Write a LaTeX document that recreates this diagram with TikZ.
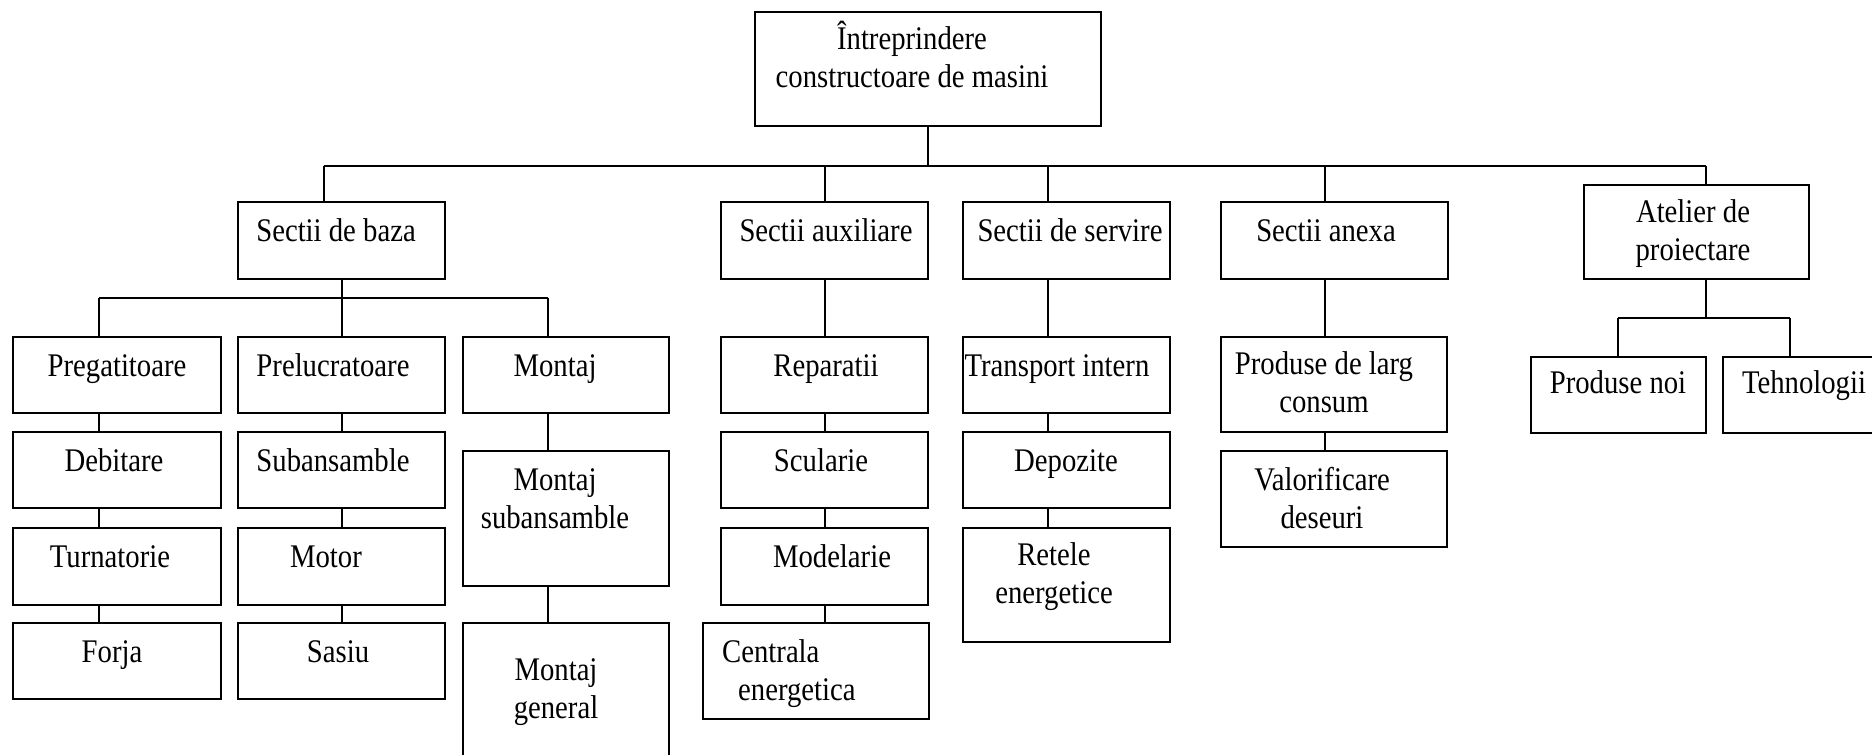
\documentclass[tikz,border=0pt]{standalone}
\usepackage{fontspec}
\usetikzlibrary{fit}
\newfontfamily\chartfont[FakeStretch=0.87]{Liberation Serif}
% box name, corners (x1,y1) (x2,y2), baseline point of the last text line, text
\newcommand\chartbox[8]{%
  \node[box, fit={(#2,#3) (#4,#5)}] (#1) {};
  \node[txt] (#1-t) at (#6,#7) {#8};}
\begin{document}
\begin{tikzpicture}[x=1pt, y=-1pt,
  box/.style={draw, line width=2.8pt, inner sep=0pt},
  conn/.style={line width=2pt},
  txt/.style={font=\chartfont\fontsize{33}{38}\selectfont, align=center, anchor=base, inner sep=0pt}]
\useasboundingbox (0,0) rectangle (1872,755);
\clip (0,0) rectangle (1872,755);

% top level
\chartbox{top}{755}{12}{1101}{126}{912}{87}{Întreprindere\\constructoare de masini}

% departments
\chartbox{baza}{238}{202}{445}{279}{336}{241}{Sectii de baza}
\chartbox{aux}{721}{202}{928}{279}{826}{241}{Sectii auxiliare}
\chartbox{serv}{963}{202}{1170}{279}{1070}{241}{Sectii de servire}
\chartbox{anexa}{1221}{202}{1448}{279}{1326}{241}{Sectii anexa}
\chartbox{atel}{1584}{185}{1809}{279}{1693}{260}{Atelier de\\proiectare}

% Sectii de baza
\chartbox{preg}{13}{337}{221}{413}{117}{376}{Pregatitoare}
\chartbox{prel}{238}{337}{445}{413}{333}{376}{Prelucratoare}
\chartbox{mont}{463}{337}{669}{413}{555}{376}{Montaj}
\chartbox{deb}{13}{432}{221}{508}{114}{471}{Debitare}
\chartbox{turn}{13}{528}{221}{605}{110}{567}{Turnatorie}
\chartbox{forja}{13}{623}{221}{699}{112}{662}{Forja}
\chartbox{subans}{238}{432}{445}{508}{333}{471}{Subansamble}
\chartbox{motor}{238}{528}{445}{605}{326}{567}{Motor}
\chartbox{sasiu}{238}{623}{445}{699}{338}{662}{Sasiu}
\chartbox{msub}{463}{451}{669}{586}{555}{528}{Montaj\\subansamble}
\chartbox{mgen}{463}{623}{669}{800}{556}{718}{Montaj\\general}

% Sectii auxiliare
\chartbox{rep}{721}{337}{928}{413}{826}{376}{Reparatii}
\chartbox{scul}{721}{432}{928}{508}{821}{471}{Scularie}
\chartbox{model}{721}{528}{928}{605}{832}{567}{Modelarie}
\node[box, fit={(703,623) (929,719)}] (centr) {};
\node[txt, align=left, anchor=base west] (centr-t) at (722,700) {Centrala\\\hspace*{16pt}energetica};

% Sectii de servire
\chartbox{transp}{963}{337}{1170}{413}{1057}{376}{Transport intern}
\chartbox{depoz}{963}{432}{1170}{508}{1066}{471}{Depozite}
\chartbox{retele}{963}{528}{1170}{642}{1054}{603}{Retele\\energetice}

% Sectii anexa
\chartbox{larg}{1221}{337}{1447}{432}{1324}{412}{Produse de larg\\consum}
\chartbox{valor}{1221}{451}{1447}{547}{1322}{528}{Valorificare\\deseuri}

% Atelier de proiectare
\chartbox{noi}{1531}{357}{1706}{433}{1618}{393}{Produse noi}
\chartbox{tehn}{1723}{357}{1910}{433}{1804}{393}{Tehnologii}

% main bus
\coordinate (busL) at (324,166);
\coordinate (busR) at (1706,166);
\coordinate (tapS) at (1048,166);
\coordinate (tapA) at (1325,166);
\draw[conn] (top.south) -- (top.south |- busL);
\draw[conn] (busL) -- (busR);
\draw[conn] (busL) -- (busL |- baza.north);
\draw[conn] (aux.north) -- (aux.north |- busL);
\draw[conn] (tapS) -- (tapS |- serv.north);
\draw[conn] (tapA) -- (tapA |- anexa.north);
\draw[conn] (busR) -- (busR |- atel.north);

% Sectii de baza branches
\coordinate (sbL) at (99,298);
\coordinate (sbR) at (548,298);
\draw[conn] (sbL) -- (sbR);
\draw[conn] (baza.south) -- (baza.south |- prel.north);
\draw[conn] (sbL) -- (sbL |- preg.north);
\draw[conn] (sbR) -- (sbR |- mont.north);
\draw[conn] (preg.south -| sbL) -- (deb.north -| sbL);
\draw[conn] (deb.south -| sbL) -- (turn.north -| sbL);
\draw[conn] (turn.south -| sbL) -- (forja.north -| sbL);
\draw[conn] (prel.south) -- (subans.north);
\draw[conn] (subans.south) -- (motor.north);
\draw[conn] (motor.south) -- (sasiu.north);
\draw[conn] (mont.south -| sbR) -- (msub.north -| sbR);
\draw[conn] (msub.south -| sbR) -- (mgen.north -| sbR);

% Sectii auxiliare chain
\draw[conn] (aux.south) -- (rep.north);
\draw[conn] (rep.south) -- (scul.north);
\draw[conn] (scul.south) -- (model.north);
\draw[conn] (model.south) -- (model.south |- centr.north);

% Sectii de servire chain
\draw[conn] (serv.south -| tapS) -- (transp.north -| tapS);
\draw[conn] (transp.south -| tapS) -- (depoz.north -| tapS);
\draw[conn] (depoz.south -| tapS) -- (retele.north -| tapS);

% Sectii anexa chain
\draw[conn] (anexa.south -| tapA) -- (larg.north -| tapA);
\draw[conn] (larg.south -| tapA) -- (valor.north -| tapA);

% Atelier de proiectare branches
\coordinate (saL) at (1618,318);
\coordinate (saR) at (1790,318);
\draw[conn] (atel.south -| busR) -- (saL -| busR);
\draw[conn] (saL) -- (saR);
\draw[conn] (saL) -- (saL |- noi.north);
\draw[conn] (saR) -- (saR |- tehn.north);
\end{tikzpicture}
\end{document}
